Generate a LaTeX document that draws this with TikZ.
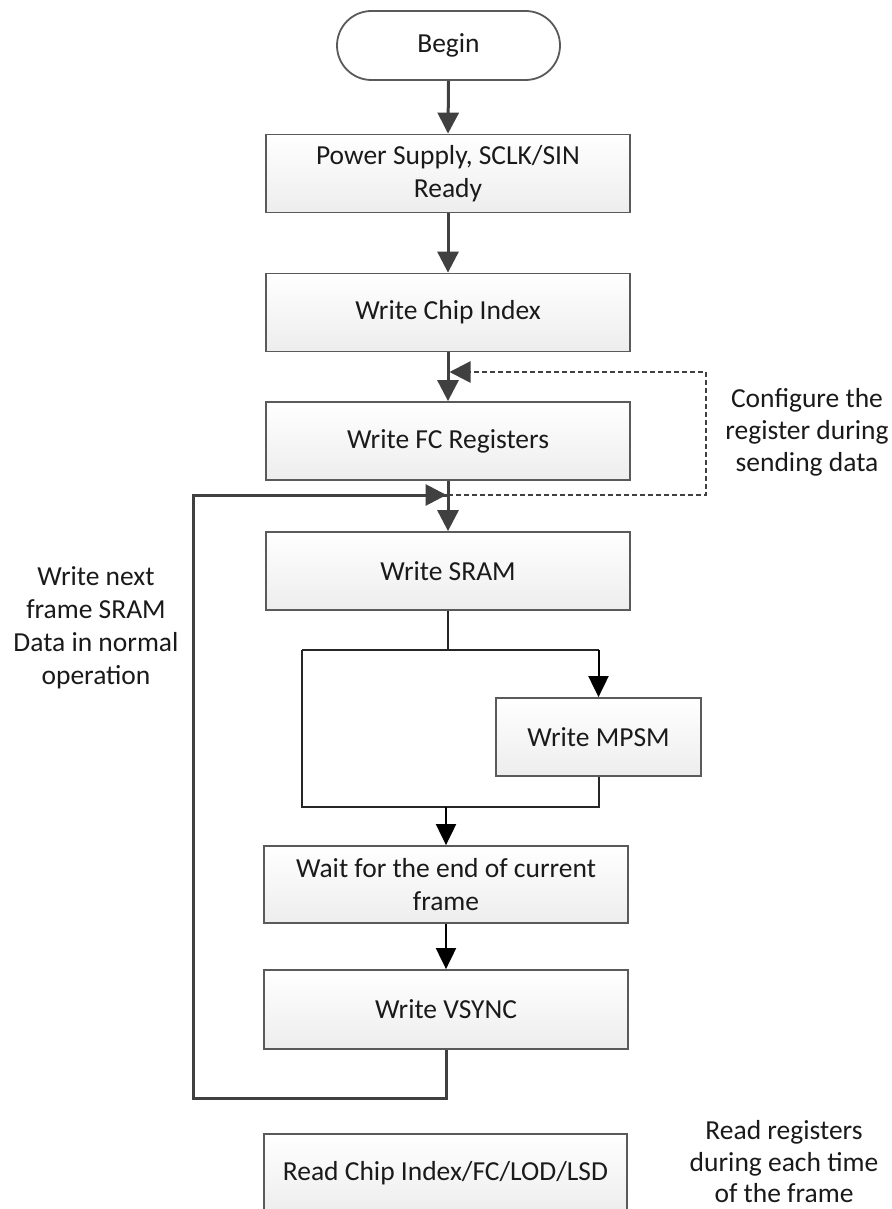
\documentclass[tikz,border=0pt]{standalone}
\usepackage{fontspec}
\setmainfont{Carlito}
\usetikzlibrary{arrows.meta,shapes.misc}
\definecolor{edgegray}{HTML}{404040}
\definecolor{boxline}{HTML}{5A5A5A}
\definecolor{textcol}{HTML}{1A1A1A}
\begin{document}
\begin{tikzpicture}[x=1pt,y=-1pt,
  box/.style={draw=boxline, line width=1.8pt, top color=white, bottom color=black!7,
    minimum width=364pt, minimum height=78pt, inner sep=0pt, align=center,
    text=textcol, font=\fontsize{27.5}{33}\selectfont},
  startbox/.style={rounded rectangle, draw=boxline, line width=1.8pt, fill=white,
    minimum width=223pt, minimum height=69pt, inner sep=0pt, text=textcol,
    font=\fontsize{27.5}{33}\selectfont},
  note/.style={align=center, inner sep=0pt, text=textcol, font=\fontsize{27.5}{32}\selectfont},
  flow/.style={draw=edgegray, line width=3pt, -{Triangle[length=21pt,width=21pt]}},
  loopline/.style={draw=edgegray, line width=3pt},
  thinline/.style={draw=black!85, line width=2pt},
  thinflow/.style={draw=black, line width=2pt, -{Triangle[length=21pt,width=20pt]}},
  dashline/.style={draw=edgegray, line width=2.6pt, dash pattern=on 5pt off 3pt},
  dashflow/.style={draw=edgegray, line width=2.6pt, -{Triangle[length=21pt,width=21pt,color=edgegray]}}
]
\clip (0,0) rectangle (891,1209);
\fill[white] (0,0) rectangle (891,1209);

% nodes
\node[startbox] (begin) at (448.5,45.5) {Begin};
\node[box] (power) at (448,173.5) {Power Supply, SCLK/SIN\\Ready};
\node[box] (chip) at (448,312.5) {Write Chip Index};
\node[box] (fc) at (448,441) {Write FC Registers};
\node[box] (sram) at (448,571) {Write SRAM};
\node[box, minimum width=205pt] (mpsm) at (598.5,737) {Write MPSM};
\node[box, minimum height=77pt] (wait) at (446,884.5) {Wait for the end of current\\frame};
\node[box, minimum height=79pt] (vsync) at (446,1009.5) {Write VSYNC};
\node[box, minimum width=363pt] (read) at (445.5,1173) {Read Chip Index/FC/LOD/LSD};

\node[note] (cfg) at (807,432) {Configure the\\register during\\sending data};
\node[note, font=\fontsize{27.5}{33}\selectfont] (nextf) at (96,628) {Write next\\frame SRAM\\Data in normal\\operation};
\node[note, font=\fontsize{27.5}{31.5}\selectfont] (readnote) at (784,1162) {Read registers\\during each time\\of the frame};

% helper coordinates
\coordinate (jfc) at (448,495);
\coordinate (dr1) at (706,495);
\coordinate (dr2) at (706,372);
\coordinate (dmid) at (470,372);
\coordinate (lb1) at (446,1098);
\coordinate (lb2) at (193,1098);
\coordinate (lb3) at (193,495);
\coordinate (ltip) at (446.5,495);
\coordinate (dtip) at (449.5,372);
\coordinate (bmid) at (448,650);
\coordinate (bl) at (302,650);
\coordinate (br) at (598.5,650);
\coordinate (ml) at (302,807);
\coordinate (mr) at (598.5,807);
\coordinate (mj) at (446,807);

% main flow
\draw[flow] (begin.south) -- (power.north);
\draw[flow] (power.south) -- (chip.north);
\draw[flow] (chip.south) -- (fc.north);
\draw[flow] (fc.south) -- (sram.north);

% dashed configure loop
\draw[dashline] (jfc) -- (dr1) -- (dr2) -- (dmid);
\draw[dashflow] (dmid) -- (dtip);

% feedback loop
\draw[loopline] (vsync.south) -- (lb1) -- (lb2) -- (lb3) -- (ltip);
\draw[flow] (lb3) -- (ltip);

% branch around MPSM
\draw[thinline] (sram.south) -- (bmid);
\draw[thinline] (bl) -- (br);
\draw[thinflow] (br) -- (mpsm.north);
\draw[thinline] (bl) -- (ml) -- (mr) -- (mpsm.south);
\draw[thinflow] (mj) -- (wait.north);
\draw[thinflow] (wait.south) -- (vsync.north);
\end{tikzpicture}
\end{document}
